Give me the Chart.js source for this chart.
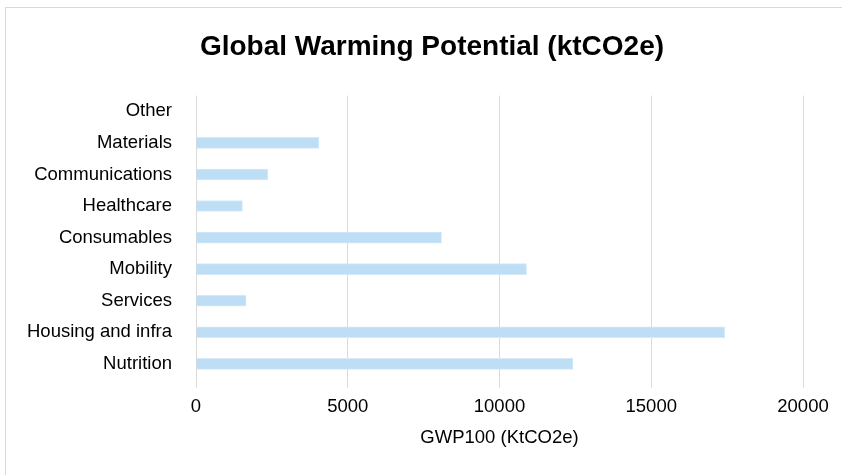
<!DOCTYPE html>
<html>
<head>
<meta charset="utf-8">
<script src="https://cdn.jsdelivr.net/npm/chart.js@4/dist/chart.umd.min.js"></script>
<style>
  body { margin: 0; background: #fff; overflow: hidden; }
  .chart-box {
    position: absolute;
    left: 5px;
    top: 7px;
    width: 852px;
    height: 480px;
    border: 1px solid #d9d9d9;
  }
  canvas { display: block; }
</style>
</head>
<body>
<div class="chart-box">
  <canvas id="gwp-canvas" width="852" height="462"></canvas>
</div>
<script>
// categories from top to bottom, as drawn
const categories = ['Other', 'Materials', 'Communications', 'Healthcare', 'Consumables', 'Mobility', 'Services', 'Housing and infra', 'Nutrition']
const gwpValues = [0, 4050, 2370, 1530, 8090, 10890, 1650, 17420, 12420]
const xTicks = [0, 5000, 10000, 15000, 20000]

const font = 'Arial, "Liberation Sans", sans-serif'
const ctx = document.getElementById('gwp-canvas').getContext('2d')

new Chart(ctx, {
  type: 'bar',
  data: {
    labels: categories,
    datasets: [
      {
        label: 'GWP100',
        data: gwpValues,
        backgroundColor: '#bddef4',
        borderColor: '#d5e9f8',
        borderWidth: 1,
        barThickness: 11,
        yAxisID: 'y',
      },
    ],
  },
  options: {
    indexAxis: 'y',
    responsive: false,
    animation: false,
    layout: { padding: { left: 0, right: 0, top: 0, bottom: 21 } },
    plugins: {
      legend: { display: false },
      tooltip: { enabled: false },
      title: {
        display: true,
        text: 'Global Warming Potential (ktCO2e)',
        color: '#000',
        font: { family: font, size: 28, weight: 'bold' },
        padding: { top: 22, bottom: 32 },
      },
    },
    scales: {
      x: {
        min: xTicks[0],
        max: xTicks[xTicks.length - 1],
        afterBuildTicks: function (scale) {
          scale.ticks = xTicks.map(function (v) { return { value: v } })
        },
        grid: { color: '#d9d9d9', lineWidth: 1, drawTicks: true, tickLength: 8 },
        border: { display: false },
        ticks: {
          color: '#000',
          font: { family: font, size: 18.5 },
          padding: 8,
          maxRotation: 0,
          callback: function (val) {
            return String(val)
          },
        },
        title: {
          display: true,
          text: 'GWP100 (KtCO2e)',
          color: '#000',
          font: { family: font, size: 18.5 },
          padding: { top: 1, bottom: 0 },
        },
      },
      y: {
        grid: { display: false, drawTicks: false },
        border: { display: false },
        ticks: {
          color: '#000',
          font: { family: font, size: 18.5 },
          padding: 24,
        },
        afterFit: function (scale) {
          scale.width = 190
        },
      },
      // empty strip on the right so the plot ends where the reference does
      yRight: {
        type: 'category',
        axis: 'y',
        position: 'right',
        grid: { display: false, drawTicks: false },
        border: { display: false },
        ticks: { display: false },
        afterFit: function (scale) {
          scale.width = 55
        },
      },
    },
  },
})
</script>
</body>
</html>
